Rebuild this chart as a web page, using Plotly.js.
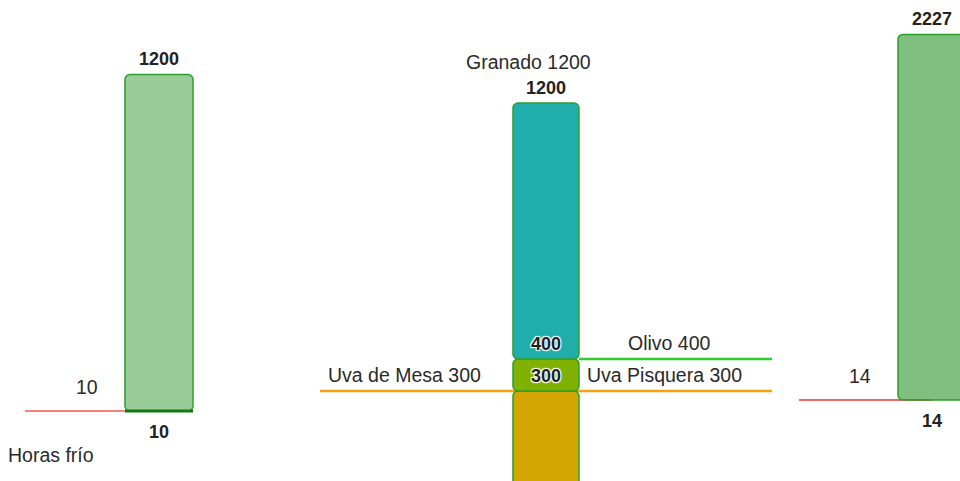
<!DOCTYPE html>
<html>
<head>
<meta charset="utf-8">
<script src="https://cdn.plot.ly/plotly-3.0.1.min.js"></script>
<style>html,body{margin:0;padding:0;background:#fff;}#chart{width:960px;height:481px;}</style>
</head>
<body>
<div id="chart"></div>
<script>
// ---- data ----
const horasFrioLabel = 'Horas frío';
const horasFrioRange = [10, 1200];      // [min, max]
const diasGradoLabel = 'Días grado';
const diasGradoRange = [14, 2227];      // [min, max]
const cultivos = ['Uva de Mesa', 'Uva Pisquera', 'Olivo', 'Granado'];
const cultivoValores = [300, 300, 400, 1200];
const segmentBases = [0, 300, 400];
const segmentTops = [300, 400, 1200];
const segmentColors = ['#d4a602', '#80b000', '#20aeaa'];

const FONT = 'Liberation Sans, Arial, sans-serif';
const border = {color: 'rgb(44,160,44)', width: 1.5};

const traces = [];
// Panel 1
traces.push({
  type: 'bar', x: [0], y: [horasFrioRange[1] - horasFrioRange[0]], base: [horasFrioRange[0]],
  width: 1, xaxis: 'x', yaxis: 'y',
  marker: {color: 'rgba(0,128,0,0.4)', line: border, cornerradius: 5},
  hoverinfo: 'skip'
});
// Panel 2 segments
for (let i = 0; i < segmentBases.length; i++) {
  traces.push({
    type: 'bar', x: [0], y: [segmentTops[i] - segmentBases[i]], base: [segmentBases[i]],
    width: 1, xaxis: 'x2', yaxis: 'y2',
    marker: {color: segmentColors[i], line: border, cornerradius: 5},
    hoverinfo: 'skip'
  });
}
// Panel 3
traces.push({
  type: 'bar', x: [0], y: [diasGradoRange[1] - diasGradoRange[0]], base: [diasGradoRange[0]],
  width: 1, xaxis: 'x3', yaxis: 'y3',
  marker: {color: 'rgba(0,128,0,0.5)', line: border, cornerradius: 5},
  hoverinfo: 'skip'
});

const hidden = {visible: false, showgrid: false, zeroline: false, fixedrange: true};

const shapes = [
  // panel 1 threshold line
  {type: 'line', xref: 'x', yref: 'y', x0: -1.97, x1: 0, y0: horasFrioRange[0], y1: horasFrioRange[0],
   line: {color: '#f00000', width: 1.2}, layer: 'below'},
  {type: 'line', xref: 'x', yref: 'y', x0: -0.5, x1: 0.5, y0: horasFrioRange[0], y1: horasFrioRange[0],
   line: {color: '#127a12', width: 3}, layer: 'above'},
  // panel 2 lines
  {type: 'line', xref: 'x2', yref: 'y2', x0: -3.424, x1: 3.424, y0: cultivoValores[0], y1: cultivoValores[0],
   line: {color: '#f5a00f', width: 2.5}, layer: 'below'},
  {type: 'line', xref: 'x2', yref: 'y2', x0: 0.5, x1: 3.424, y0: cultivoValores[2], y1: cultivoValores[2],
   line: {color: '#2ecc2e', width: 2.5}, layer: 'below'},
  // panel 3 threshold line
  {type: 'line', xref: 'x3', yref: 'y3', x0: -1.956, x1: 0, y0: diasGradoRange[0], y1: diasGradoRange[0],
   line: {color: '#f06868', width: 1.8}, layer: 'below'}
];

const reg = {family: FONT, size: 19.5, color: '#2a2a2a'};
const bold = {family: FONT, size: 18, color: '#222', weight: 'bold'};
const boldShadow = {family: FONT, size: 18, color: '#222', weight: 'bold',
  shadow: '1px 1px 1px #fff, -1px -1px 1px #fff, 1px -1px 1px #fff, -1px 1px 1px #fff'};

function ann(xr, yr, x, y, text, font, yshift, xanchor) {
  return {xref: xr, yref: yr, x: x, y: y, text: text, font: font, showarrow: false,
          xanchor: xanchor || 'center', yanchor: 'middle', yshift: yshift};
}

const annotations = [
  // panel 1
  ann('x', 'y', 0, horasFrioRange[1], String(horasFrioRange[1]), bold, 15),
  ann('x', 'y', 0, horasFrioRange[0], String(horasFrioRange[0]), bold, -21),
  ann('x', 'y', -1.06, horasFrioRange[0], String(horasFrioRange[0]), reg, 24),
  ann('x', 'y', -2.25, horasFrioRange[0], horasFrioLabel, reg, -44, 'left'),
  // panel 2
  ann('x2', 'y2', -0.27, cultivoValores[3], cultivos[3] + ' ' + cultivoValores[3], reg, 41),
  ann('x2', 'y2', 0, segmentTops[2], String(segmentTops[2]), bold, 15),
  ann('x2', 'y2', 0, cultivoValores[2], String(cultivoValores[2]), boldShadow, 15),
  ann('x2', 'y2', 0, cultivoValores[0], String(cultivoValores[0]), boldShadow, 15),
  ann('x2', 'y2', 1.864, cultivoValores[2], cultivos[2] + ' ' + cultivoValores[2], reg, 16),
  ann('x2', 'y2', 1.80, cultivoValores[1], cultivos[1] + ' ' + cultivoValores[1], reg, 16),
  ann('x2', 'y2', -2.15, cultivoValores[0], cultivos[0] + ' ' + cultivoValores[0], reg, 16),
  // panel 3
  ann('x3', 'y3', 0, diasGradoRange[1], String(diasGradoRange[1]), bold, 15.5),
  ann('x3', 'y3', 0, diasGradoRange[0], String(diasGradoRange[0]), bold, -21),
  ann('x3', 'y3', -1.06, diasGradoRange[0], String(diasGradoRange[0]), reg, 24),
  ann('x3', 'y3', -2.21, diasGradoRange[0], diasGradoLabel, reg, -41, 'left')
];

const layout = {
  width: 960, height: 481,
  margin: {l: 0, r: 0, t: 0, b: 0, pad: 0},
  paper_bgcolor: '#fff', plot_bgcolor: 'rgba(0,0,0,0)',
  showlegend: false, barmode: 'overlay',
  font: {family: FONT},
  xaxis: Object.assign({}, hidden, {domain: [0, 0.3], range: [-2.338, 1.897]}),
  yaxis: Object.assign({}, hidden, {domain: [0, 1], range: [-237.6, 1463.3]}),
  xaxis2: Object.assign({}, hidden, {domain: [0.3, 0.82], range: [-3.909, 3.655]}),
  yaxis2: Object.assign({}, hidden, {domain: [0, 1], range: [18.75, 1521.9]}),
  xaxis3: Object.assign({}, hidden, {domain: [0.82, 1], range: [-2.129, 0.412]}),
  yaxis3: Object.assign({}, hidden, {domain: [0, 1], range: [-476.4, 2435.2]}),
  shapes: shapes,
  annotations: annotations
};

Plotly.newPlot('chart', traces, layout, {staticPlot: true, displayModeBar: false});
</script>
</body>
</html>
